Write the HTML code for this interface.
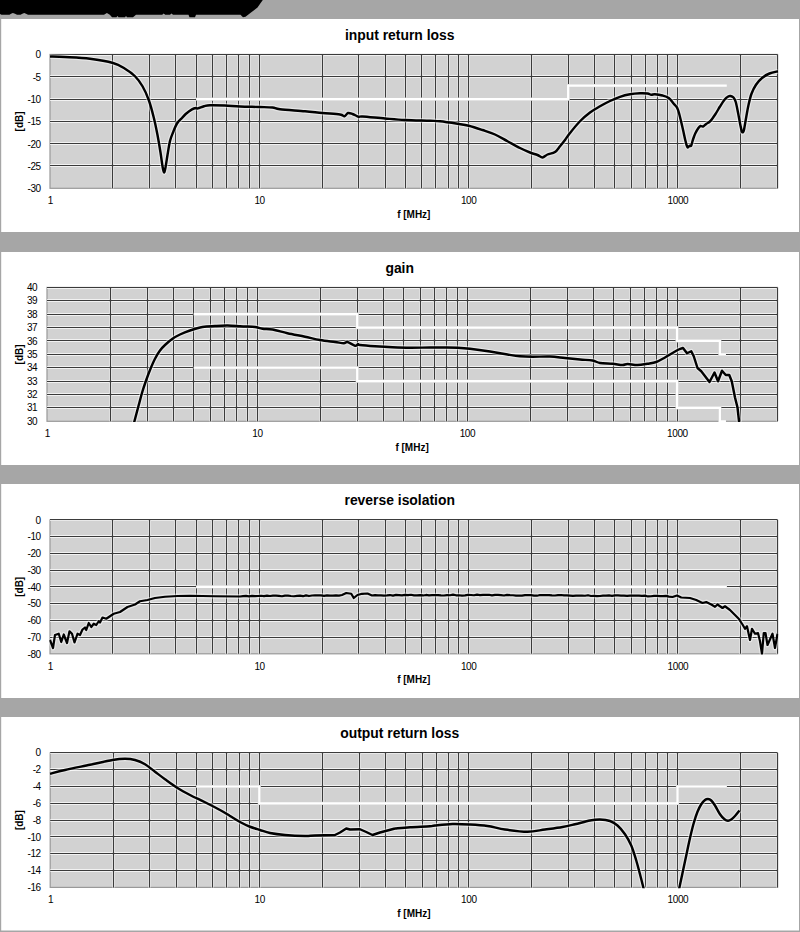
<!DOCTYPE html>
<html><head><meta charset="utf-8"><title>S-Parameters</title>
<style>
html,body{margin:0;padding:0;background:#a6a6a6;}
body{width:800px;height:932px;overflow:hidden;}
svg{display:block;font-family:"Liberation Sans",sans-serif;}
.t{font-size:13.9px;font-weight:bold;text-anchor:middle;fill:#000;}
.yl{font-size:10px;letter-spacing:-0.38px;text-anchor:end;fill:#000;}
.xl{font-size:10px;letter-spacing:-0.38px;text-anchor:middle;fill:#000;}
.ax{font-size:10px;font-weight:bold;text-anchor:middle;fill:#000;}
</style></head><body>
<svg width="800" height="932" viewBox="0 0 800 932">
<defs><filter id="sb" x="-2%" y="-2%" width="104%" height="104%"><feGaussianBlur stdDeviation="0.28"/></filter></defs>
<rect x="0" y="0" width="800" height="932" fill="#a6a6a6"/>
<path d="M0,0 L262.8,0 L261,2.5 L257.5,7.5 L251,12.5 L245.5,16.8 L243,17.2 L240.5,14.8 L196,14.8 L195,17.2 L189.5,17.2 L188.5,14.8 L173,14.8 L171.5,13.6 L170,14.8 L165.2,14.8 L163.7,13.6 L162.2,14.8 L136,14.8 L133,17.2 L127,17.2 L126,16 L125,17.2 L118.5,17.2 L117.5,16 L116.5,17.2 L112,17.2 L109.8,14.8 L106.9,12.9 L104,14.8 L28,14.7 L26,13.8 L24.2,13 L22.4,13.8 L20.5,14.7 L17,14.7 L15,13.8 L12.9,13 L11,13.8 L9.5,14.7 L1.5,14.7 L0,14 Z" fill="#000"/>

<rect x="1.2" y="19" width="797.8" height="213.00" fill="#fff"/>
<text class="t" x="399.7" y="39.8">input return loss</text>
<rect x="50" y="54.45" width="727.50" height="133.85" fill="#d2d2d2" stroke="#999" stroke-width="1.2"/>
<clipPath id="cp0"><rect x="49.2" y="53.650000000000006" width="729.10" height="135.45"/></clipPath>
<path d="M50,54.50H777.5M50,76.50H777.5M50,99.50H777.5M50,121.50H777.5M50,143.50H777.5M50,165.50H777.5M112.50,54.45V188.3M149.50,54.45V188.3M175.50,54.45V188.3M196.50,54.45V188.3M212.50,54.45V188.3M226.50,54.45V188.3M238.50,54.45V188.3M249.50,54.45V188.3M259.50,54.45V188.3M322.50,54.45V188.3M358.50,54.45V188.3M385.50,54.45V188.3M405.50,54.45V188.3M421.50,54.45V188.3M435.50,54.45V188.3M448.50,54.45V188.3M458.50,54.45V188.3M468.50,54.45V188.3M531.50,54.45V188.3M568.50,54.45V188.3M594.50,54.45V188.3M614.50,54.45V188.3M631.50,54.45V188.3M645.50,54.45V188.3M657.50,54.45V188.3M667.50,54.45V188.3M677.50,54.45V188.3M740.50,54.45V188.3M777.50,54.45V188.3M777.50,54.45V188.3" stroke="#fff" stroke-opacity="0.7" stroke-width="3" fill="none" clip-path="url(#cp0)"/>
<path d="M50,54.50H777.5M50,76.50H777.5M50,99.50H777.5M50,121.50H777.5M50,143.50H777.5M50,165.50H777.5M112.50,54.45V188.3M149.50,54.45V188.3M175.50,54.45V188.3M196.50,54.45V188.3M212.50,54.45V188.3M226.50,54.45V188.3M238.50,54.45V188.3M249.50,54.45V188.3M259.50,54.45V188.3M322.50,54.45V188.3M358.50,54.45V188.3M385.50,54.45V188.3M405.50,54.45V188.3M421.50,54.45V188.3M435.50,54.45V188.3M448.50,54.45V188.3M458.50,54.45V188.3M468.50,54.45V188.3M531.50,54.45V188.3M568.50,54.45V188.3M594.50,54.45V188.3M614.50,54.45V188.3M631.50,54.45V188.3M645.50,54.45V188.3M657.50,54.45V188.3M667.50,54.45V188.3M677.50,54.45V188.3M740.50,54.45V188.3M777.50,54.45V188.3M777.50,54.45V188.3" stroke="#3a3a3a" stroke-width="1.2" fill="none" filter="url(#sb)"/>
<path d="M196.20,99.07 L568.14,99.07 L568.14,85.68 L726.78,85.68" stroke="#d2d2d2" stroke-width="3.2" fill="none" clip-path="url(#cp0)"/>
<path d="M196.20,99.07 L568.14,99.07 L568.14,85.68 L726.78,85.68" stroke="#fff" stroke-width="2.2" fill="none" clip-path="url(#cp0)"/>
<path d="M50.00,56.50 C52.50,56.58 58.33,56.62 65.00,57.00 C71.67,57.38 82.00,57.75 90.00,58.75 C98.00,59.75 107.17,61.33 113.00,63.00 C118.83,64.67 121.33,66.54 125.00,68.75 C128.67,70.96 132.08,73.33 135.00,76.25 C137.92,79.17 140.21,82.29 142.50,86.25 C144.79,90.21 146.88,94.79 148.75,100.00 C150.62,105.21 152.29,111.67 153.75,117.50 C155.21,123.33 156.38,129.17 157.50,135.00 C158.62,140.83 159.67,147.29 160.50,152.50 C161.33,157.71 161.92,162.93 162.50,166.25 C163.08,169.57 163.50,172.19 164.00,172.40 C164.50,172.61 164.92,170.40 165.50,167.50 C166.08,164.60 166.75,159.42 167.50,155.00 C168.25,150.58 169.08,144.75 170.00,141.00 C170.92,137.25 171.83,135.42 173.00,132.50 C174.17,129.58 175.50,125.92 177.00,123.50 C178.50,121.08 180.50,119.62 182.00,118.00 C183.50,116.38 184.33,115.23 186.00,113.80 C187.67,112.37 190.33,110.37 192.00,109.40 C193.67,108.43 195.00,108.17 196.00,108.00 C197.00,107.83 196.67,108.68 198.00,108.40 C199.33,108.12 202.00,106.83 204.00,106.30 C206.00,105.77 206.50,105.33 210.00,105.20 C213.50,105.07 220.00,105.28 225.00,105.50 C230.00,105.72 234.25,106.25 240.00,106.50 C245.75,106.75 254.08,106.83 259.50,107.00 C264.92,107.17 269.08,107.12 272.50,107.50 C275.92,107.88 274.58,108.62 280.00,109.25 C285.42,109.88 297.92,110.62 305.00,111.25 C312.08,111.88 316.67,112.46 322.50,113.00 C328.33,113.54 336.33,113.96 340.00,114.50 C343.67,115.04 343.17,116.50 344.50,116.25 C345.83,116.00 346.67,113.38 348.00,113.00 C349.33,112.62 351.12,113.54 352.50,114.00 C353.88,114.46 355.21,115.25 356.25,115.75 C357.29,116.25 357.71,116.88 358.75,117.00 C359.79,117.12 358.12,116.25 362.50,116.50 C366.88,116.75 377.92,117.92 385.00,118.50 C392.08,119.08 397.50,119.62 405.00,120.00 C412.50,120.38 424.17,120.54 430.00,120.75 C435.83,120.96 435.42,120.75 440.00,121.25 C444.58,121.75 452.71,123.00 457.50,123.75 C462.29,124.50 464.58,124.71 468.75,125.75 C472.92,126.79 478.12,128.54 482.50,130.00 C486.88,131.46 490.83,132.62 495.00,134.50 C499.17,136.38 503.33,139.00 507.50,141.25 C511.67,143.50 516.25,146.12 520.00,148.00 C523.75,149.88 527.08,151.33 530.00,152.50 C532.92,153.67 535.42,154.17 537.50,155.00 C539.58,155.83 540.83,157.58 542.50,157.50 C544.17,157.42 545.42,155.42 547.50,154.50 C549.58,153.58 552.92,153.38 555.00,152.00 C557.08,150.62 558.33,148.25 560.00,146.25 C561.67,144.25 563.33,142.21 565.00,140.00 C566.67,137.79 567.50,136.12 570.00,133.00 C572.50,129.88 576.67,124.67 580.00,121.25 C583.33,117.83 586.67,115.00 590.00,112.50 C593.33,110.00 596.67,108.17 600.00,106.25 C603.33,104.33 606.67,102.58 610.00,101.00 C613.33,99.42 616.67,97.92 620.00,96.80 C623.33,95.67 626.67,94.84 630.00,94.25 C633.33,93.66 637.08,93.38 640.00,93.25 C642.92,93.12 645.62,93.25 647.50,93.50 C649.38,93.75 650.00,94.62 651.25,94.75 C652.50,94.88 653.12,94.12 655.00,94.25 C656.88,94.38 660.21,94.88 662.50,95.50 C664.79,96.12 666.88,96.62 668.75,98.00 C670.62,99.38 672.21,101.78 673.75,103.75 C675.29,105.72 676.54,105.84 678.00,109.80 C679.46,113.76 681.25,122.30 682.50,127.50 C683.75,132.70 684.67,137.72 685.50,141.00 C686.33,144.28 686.78,146.40 687.45,147.20 C688.12,148.00 688.88,146.07 689.50,145.80 C690.12,145.53 690.62,146.65 691.20,145.60 C691.78,144.55 692.33,141.52 693.00,139.50 C693.67,137.48 694.38,135.38 695.25,133.50 C696.12,131.62 697.38,129.50 698.25,128.25 C699.12,127.00 699.71,126.29 700.50,126.00 C701.29,125.71 702.00,126.88 703.00,126.50 C704.00,126.12 705.29,124.63 706.50,123.75 C707.71,122.87 708.75,122.83 710.25,121.20 C711.75,119.58 713.88,116.45 715.50,114.00 C717.12,111.55 718.50,108.88 720.00,106.50 C721.50,104.12 723.12,101.42 724.50,99.75 C725.88,98.08 727.25,97.12 728.25,96.50 C729.25,95.88 729.62,95.83 730.50,96.00 C731.38,96.17 732.62,96.50 733.50,97.50 C734.38,98.50 735.00,99.50 735.75,102.00 C736.50,104.50 737.25,108.75 738.00,112.50 C738.75,116.25 739.62,121.38 740.25,124.50 C740.88,127.62 741.29,129.97 741.75,131.25 C742.21,132.53 742.62,132.45 743.00,132.20 C743.38,131.95 743.46,132.28 744.00,129.75 C744.54,127.22 745.50,121.12 746.25,117.00 C747.00,112.88 747.62,108.88 748.50,105.00 C749.38,101.12 750.25,97.12 751.50,93.75 C752.75,90.38 754.25,87.38 756.00,84.75 C757.75,82.12 759.75,79.88 762.00,78.00 C764.25,76.12 766.83,74.62 769.50,73.50 C772.17,72.38 776.58,71.62 778.00,71.25" stroke="#fff" stroke-opacity="0.45" stroke-width="4.8" fill="none" stroke-linejoin="round" clip-path="url(#cp0)"/>
<path d="M50.00,56.50 C52.50,56.58 58.33,56.62 65.00,57.00 C71.67,57.38 82.00,57.75 90.00,58.75 C98.00,59.75 107.17,61.33 113.00,63.00 C118.83,64.67 121.33,66.54 125.00,68.75 C128.67,70.96 132.08,73.33 135.00,76.25 C137.92,79.17 140.21,82.29 142.50,86.25 C144.79,90.21 146.88,94.79 148.75,100.00 C150.62,105.21 152.29,111.67 153.75,117.50 C155.21,123.33 156.38,129.17 157.50,135.00 C158.62,140.83 159.67,147.29 160.50,152.50 C161.33,157.71 161.92,162.93 162.50,166.25 C163.08,169.57 163.50,172.19 164.00,172.40 C164.50,172.61 164.92,170.40 165.50,167.50 C166.08,164.60 166.75,159.42 167.50,155.00 C168.25,150.58 169.08,144.75 170.00,141.00 C170.92,137.25 171.83,135.42 173.00,132.50 C174.17,129.58 175.50,125.92 177.00,123.50 C178.50,121.08 180.50,119.62 182.00,118.00 C183.50,116.38 184.33,115.23 186.00,113.80 C187.67,112.37 190.33,110.37 192.00,109.40 C193.67,108.43 195.00,108.17 196.00,108.00 C197.00,107.83 196.67,108.68 198.00,108.40 C199.33,108.12 202.00,106.83 204.00,106.30 C206.00,105.77 206.50,105.33 210.00,105.20 C213.50,105.07 220.00,105.28 225.00,105.50 C230.00,105.72 234.25,106.25 240.00,106.50 C245.75,106.75 254.08,106.83 259.50,107.00 C264.92,107.17 269.08,107.12 272.50,107.50 C275.92,107.88 274.58,108.62 280.00,109.25 C285.42,109.88 297.92,110.62 305.00,111.25 C312.08,111.88 316.67,112.46 322.50,113.00 C328.33,113.54 336.33,113.96 340.00,114.50 C343.67,115.04 343.17,116.50 344.50,116.25 C345.83,116.00 346.67,113.38 348.00,113.00 C349.33,112.62 351.12,113.54 352.50,114.00 C353.88,114.46 355.21,115.25 356.25,115.75 C357.29,116.25 357.71,116.88 358.75,117.00 C359.79,117.12 358.12,116.25 362.50,116.50 C366.88,116.75 377.92,117.92 385.00,118.50 C392.08,119.08 397.50,119.62 405.00,120.00 C412.50,120.38 424.17,120.54 430.00,120.75 C435.83,120.96 435.42,120.75 440.00,121.25 C444.58,121.75 452.71,123.00 457.50,123.75 C462.29,124.50 464.58,124.71 468.75,125.75 C472.92,126.79 478.12,128.54 482.50,130.00 C486.88,131.46 490.83,132.62 495.00,134.50 C499.17,136.38 503.33,139.00 507.50,141.25 C511.67,143.50 516.25,146.12 520.00,148.00 C523.75,149.88 527.08,151.33 530.00,152.50 C532.92,153.67 535.42,154.17 537.50,155.00 C539.58,155.83 540.83,157.58 542.50,157.50 C544.17,157.42 545.42,155.42 547.50,154.50 C549.58,153.58 552.92,153.38 555.00,152.00 C557.08,150.62 558.33,148.25 560.00,146.25 C561.67,144.25 563.33,142.21 565.00,140.00 C566.67,137.79 567.50,136.12 570.00,133.00 C572.50,129.88 576.67,124.67 580.00,121.25 C583.33,117.83 586.67,115.00 590.00,112.50 C593.33,110.00 596.67,108.17 600.00,106.25 C603.33,104.33 606.67,102.58 610.00,101.00 C613.33,99.42 616.67,97.92 620.00,96.80 C623.33,95.67 626.67,94.84 630.00,94.25 C633.33,93.66 637.08,93.38 640.00,93.25 C642.92,93.12 645.62,93.25 647.50,93.50 C649.38,93.75 650.00,94.62 651.25,94.75 C652.50,94.88 653.12,94.12 655.00,94.25 C656.88,94.38 660.21,94.88 662.50,95.50 C664.79,96.12 666.88,96.62 668.75,98.00 C670.62,99.38 672.21,101.78 673.75,103.75 C675.29,105.72 676.54,105.84 678.00,109.80 C679.46,113.76 681.25,122.30 682.50,127.50 C683.75,132.70 684.67,137.72 685.50,141.00 C686.33,144.28 686.78,146.40 687.45,147.20 C688.12,148.00 688.88,146.07 689.50,145.80 C690.12,145.53 690.62,146.65 691.20,145.60 C691.78,144.55 692.33,141.52 693.00,139.50 C693.67,137.48 694.38,135.38 695.25,133.50 C696.12,131.62 697.38,129.50 698.25,128.25 C699.12,127.00 699.71,126.29 700.50,126.00 C701.29,125.71 702.00,126.88 703.00,126.50 C704.00,126.12 705.29,124.63 706.50,123.75 C707.71,122.87 708.75,122.83 710.25,121.20 C711.75,119.58 713.88,116.45 715.50,114.00 C717.12,111.55 718.50,108.88 720.00,106.50 C721.50,104.12 723.12,101.42 724.50,99.75 C725.88,98.08 727.25,97.12 728.25,96.50 C729.25,95.88 729.62,95.83 730.50,96.00 C731.38,96.17 732.62,96.50 733.50,97.50 C734.38,98.50 735.00,99.50 735.75,102.00 C736.50,104.50 737.25,108.75 738.00,112.50 C738.75,116.25 739.62,121.38 740.25,124.50 C740.88,127.62 741.29,129.97 741.75,131.25 C742.21,132.53 742.62,132.45 743.00,132.20 C743.38,131.95 743.46,132.28 744.00,129.75 C744.54,127.22 745.50,121.12 746.25,117.00 C747.00,112.88 747.62,108.88 748.50,105.00 C749.38,101.12 750.25,97.12 751.50,93.75 C752.75,90.38 754.25,87.38 756.00,84.75 C757.75,82.12 759.75,79.88 762.00,78.00 C764.25,76.12 766.83,74.62 769.50,73.50 C772.17,72.38 776.58,71.62 778.00,71.25" stroke="#000" stroke-width="2.45" fill="none" stroke-linejoin="round" stroke-linecap="butt" clip-path="url(#cp0)"/>
<text class="yl" x="40.8" y="58.4">0</text>
<text class="yl" x="40.8" y="80.7">-5</text>
<text class="yl" x="40.8" y="103.0">-10</text>
<text class="yl" x="40.8" y="125.3">-15</text>
<text class="yl" x="40.8" y="147.6">-20</text>
<text class="yl" x="40.8" y="169.9">-25</text>
<text class="yl" x="40.8" y="192.2">-30</text>
<text class="xl" x="50.4" y="204.3">1</text>
<text class="xl" x="259.6" y="204.3">10</text>
<text class="xl" x="468.7" y="204.3">100</text>
<text class="xl" x="677.9" y="204.3">1000</text>
<text class="ax" x="413.8" y="217.9">f [MHz]</text>
<text class="ax" transform="translate(23.1,121.4) rotate(-90)" x="0" y="0">[dB]</text>
<rect x="1.2" y="252" width="797.8" height="213.00" fill="#fff"/>
<text class="t" x="399.7" y="272.6">gain</text>
<rect x="47" y="287.4" width="730.30" height="133.90" fill="#d2d2d2" stroke="#999" stroke-width="1.2"/>
<clipPath id="cp1"><rect x="46.2" y="286.59999999999997" width="731.90" height="135.50"/></clipPath>
<path d="M47,287.50H777.3M47,300.50H777.3M47,314.50H777.3M47,327.50H777.3M47,340.50H777.3M47,354.50H777.3M47,367.50H777.3M47,381.50H777.3M47,394.50H777.3M47,407.50H777.3M110.50,287.4V421.3M147.50,287.4V421.3M173.50,287.4V421.3M193.50,287.4V421.3M210.50,287.4V421.3M224.50,287.4V421.3M236.50,287.4V421.3M247.50,287.4V421.3M257.50,287.4V421.3M320.50,287.4V421.3M357.50,287.4V421.3M383.50,287.4V421.3M403.50,287.4V421.3M420.50,287.4V421.3M434.50,287.4V421.3M446.50,287.4V421.3M457.50,287.4V421.3M467.50,287.4V421.3M530.50,287.4V421.3M567.50,287.4V421.3M593.50,287.4V421.3M613.50,287.4V421.3M630.50,287.4V421.3M644.50,287.4V421.3M656.50,287.4V421.3M667.50,287.4V421.3M677.50,287.4V421.3M740.50,287.4V421.3M777.50,287.4V421.3M777.50,287.4V421.3" stroke="#fff" stroke-opacity="0.7" stroke-width="3" fill="none" clip-path="url(#cp1)"/>
<path d="M47,287.50H777.3M47,300.50H777.3M47,314.50H777.3M47,327.50H777.3M47,340.50H777.3M47,354.50H777.3M47,367.50H777.3M47,381.50H777.3M47,394.50H777.3M47,407.50H777.3M110.50,287.4V421.3M147.50,287.4V421.3M173.50,287.4V421.3M193.50,287.4V421.3M210.50,287.4V421.3M224.50,287.4V421.3M236.50,287.4V421.3M247.50,287.4V421.3M257.50,287.4V421.3M320.50,287.4V421.3M357.50,287.4V421.3M383.50,287.4V421.3M403.50,287.4V421.3M420.50,287.4V421.3M434.50,287.4V421.3M446.50,287.4V421.3M457.50,287.4V421.3M467.50,287.4V421.3M530.50,287.4V421.3M567.50,287.4V421.3M593.50,287.4V421.3M613.50,287.4V421.3M630.50,287.4V421.3M644.50,287.4V421.3M656.50,287.4V421.3M667.50,287.4V421.3M677.50,287.4V421.3M740.50,287.4V421.3M777.50,287.4V421.3M777.50,287.4V421.3" stroke="#3a3a3a" stroke-width="1.2" fill="none" filter="url(#sb)"/>
<path d="M193.78,314.18 L357.20,314.18 L357.20,327.57 L677.00,327.57 L677.00,340.96 L719.87,340.96 L719.87,354.35 L725.93,354.35" stroke="#d2d2d2" stroke-width="3.2" fill="none" clip-path="url(#cp1)"/>
<path d="M193.78,314.18 L357.20,314.18 L357.20,327.57 L677.00,327.57 L677.00,340.96 L719.87,340.96 L719.87,354.35 L725.93,354.35" stroke="#fff" stroke-width="2.2" fill="none" clip-path="url(#cp1)"/>
<path d="M193.78,367.74 L357.20,367.74 L357.20,381.13 L677.00,381.13 L677.00,407.91 L719.87,407.91 L719.87,421.30 L725.93,421.30" stroke="#d2d2d2" stroke-width="3.2" fill="none" clip-path="url(#cp1)"/>
<path d="M193.78,367.74 L357.20,367.74 L357.20,381.13 L677.00,381.13 L677.00,407.91 L719.87,407.91 L719.87,421.30 L725.93,421.30" stroke="#fff" stroke-width="2.2" fill="none" clip-path="url(#cp1)"/>
<path d="M133.50,425.00 C133.67,424.33 133.62,424.33 134.50,421.00 C135.38,417.67 137.42,409.96 138.75,405.00 C140.08,400.04 141.25,395.42 142.50,391.25 C143.75,387.08 145.00,383.54 146.25,380.00 C147.50,376.46 148.54,373.54 150.00,370.00 C151.46,366.46 153.33,362.00 155.00,358.75 C156.67,355.50 158.33,352.79 160.00,350.50 C161.67,348.21 162.92,346.96 165.00,345.00 C167.08,343.04 170.00,340.50 172.50,338.75 C175.00,337.00 177.08,335.88 180.00,334.50 C182.92,333.12 186.25,331.75 190.00,330.50 C193.75,329.25 198.33,327.75 202.50,327.00 C206.67,326.25 210.83,326.25 215.00,326.00 C219.17,325.75 223.33,325.46 227.50,325.50 C231.67,325.54 237.08,326.08 240.00,326.25 C242.92,326.42 242.50,326.38 245.00,326.50 C247.50,326.62 252.08,326.62 255.00,327.00 C257.92,327.38 259.58,328.33 262.50,328.75 C265.42,329.17 268.33,328.75 272.50,329.50 C276.67,330.25 282.08,332.04 287.50,333.25 C292.92,334.46 299.58,335.62 305.00,336.75 C310.42,337.88 315.00,339.12 320.00,340.00 C325.00,340.88 331.04,341.46 335.00,342.00 C338.96,342.54 341.67,343.25 343.75,343.25 C345.83,343.25 345.62,341.58 347.50,342.00 C349.38,342.42 353.25,345.38 355.00,345.75 C356.75,346.12 357.17,344.38 358.00,344.25 C358.83,344.12 357.17,344.67 360.00,345.00 C362.83,345.33 369.58,345.88 375.00,346.25 C380.42,346.62 386.67,347.00 392.50,347.25 C398.33,347.50 403.75,347.71 410.00,347.75 C416.25,347.79 424.17,347.54 430.00,347.50 C435.83,347.46 440.42,347.46 445.00,347.50 C449.58,347.54 453.33,347.54 457.50,347.75 C461.67,347.96 464.58,348.12 470.00,348.75 C475.42,349.38 483.75,350.54 490.00,351.50 C496.25,352.46 502.50,353.71 507.50,354.50 C512.50,355.29 515.83,355.88 520.00,356.25 C524.17,356.62 527.50,356.71 532.50,356.75 C537.50,356.79 544.58,356.29 550.00,356.50 C555.42,356.71 560.00,357.50 565.00,358.00 C570.00,358.50 575.42,359.08 580.00,359.50 C584.58,359.92 589.17,359.92 592.50,360.50 C595.83,361.08 596.67,362.46 600.00,363.00 C603.33,363.54 608.75,363.42 612.50,363.75 C616.25,364.08 620.00,364.96 622.50,365.00 C625.00,365.04 625.00,364.00 627.50,364.00 C630.00,364.00 634.17,365.04 637.50,365.00 C640.83,364.96 644.38,364.25 647.50,363.75 C650.62,363.25 653.33,363.04 656.25,362.00 C659.17,360.96 662.29,359.00 665.00,357.50 C667.71,356.00 670.21,354.33 672.50,353.00 C674.79,351.67 677.00,350.33 678.75,349.50 C680.50,348.67 682.29,348.25 683.00,348.00  L687.00,353.25 L691.25,351.25 L693.75,356.25 L697.50,368.00 L701.25,371.25 L709.50,382.00 L714.50,372.50 L718.00,381.25 L722.00,370.75 L725.75,375.00 L729.25,375.00 L731.75,381.25 L735.00,397.50 L737.50,407.50 L739.00,421.00 L739.50,426.00" stroke="#fff" stroke-opacity="0.45" stroke-width="4.8" fill="none" stroke-linejoin="round" clip-path="url(#cp1)"/>
<path d="M133.50,425.00 C133.67,424.33 133.62,424.33 134.50,421.00 C135.38,417.67 137.42,409.96 138.75,405.00 C140.08,400.04 141.25,395.42 142.50,391.25 C143.75,387.08 145.00,383.54 146.25,380.00 C147.50,376.46 148.54,373.54 150.00,370.00 C151.46,366.46 153.33,362.00 155.00,358.75 C156.67,355.50 158.33,352.79 160.00,350.50 C161.67,348.21 162.92,346.96 165.00,345.00 C167.08,343.04 170.00,340.50 172.50,338.75 C175.00,337.00 177.08,335.88 180.00,334.50 C182.92,333.12 186.25,331.75 190.00,330.50 C193.75,329.25 198.33,327.75 202.50,327.00 C206.67,326.25 210.83,326.25 215.00,326.00 C219.17,325.75 223.33,325.46 227.50,325.50 C231.67,325.54 237.08,326.08 240.00,326.25 C242.92,326.42 242.50,326.38 245.00,326.50 C247.50,326.62 252.08,326.62 255.00,327.00 C257.92,327.38 259.58,328.33 262.50,328.75 C265.42,329.17 268.33,328.75 272.50,329.50 C276.67,330.25 282.08,332.04 287.50,333.25 C292.92,334.46 299.58,335.62 305.00,336.75 C310.42,337.88 315.00,339.12 320.00,340.00 C325.00,340.88 331.04,341.46 335.00,342.00 C338.96,342.54 341.67,343.25 343.75,343.25 C345.83,343.25 345.62,341.58 347.50,342.00 C349.38,342.42 353.25,345.38 355.00,345.75 C356.75,346.12 357.17,344.38 358.00,344.25 C358.83,344.12 357.17,344.67 360.00,345.00 C362.83,345.33 369.58,345.88 375.00,346.25 C380.42,346.62 386.67,347.00 392.50,347.25 C398.33,347.50 403.75,347.71 410.00,347.75 C416.25,347.79 424.17,347.54 430.00,347.50 C435.83,347.46 440.42,347.46 445.00,347.50 C449.58,347.54 453.33,347.54 457.50,347.75 C461.67,347.96 464.58,348.12 470.00,348.75 C475.42,349.38 483.75,350.54 490.00,351.50 C496.25,352.46 502.50,353.71 507.50,354.50 C512.50,355.29 515.83,355.88 520.00,356.25 C524.17,356.62 527.50,356.71 532.50,356.75 C537.50,356.79 544.58,356.29 550.00,356.50 C555.42,356.71 560.00,357.50 565.00,358.00 C570.00,358.50 575.42,359.08 580.00,359.50 C584.58,359.92 589.17,359.92 592.50,360.50 C595.83,361.08 596.67,362.46 600.00,363.00 C603.33,363.54 608.75,363.42 612.50,363.75 C616.25,364.08 620.00,364.96 622.50,365.00 C625.00,365.04 625.00,364.00 627.50,364.00 C630.00,364.00 634.17,365.04 637.50,365.00 C640.83,364.96 644.38,364.25 647.50,363.75 C650.62,363.25 653.33,363.04 656.25,362.00 C659.17,360.96 662.29,359.00 665.00,357.50 C667.71,356.00 670.21,354.33 672.50,353.00 C674.79,351.67 677.00,350.33 678.75,349.50 C680.50,348.67 682.29,348.25 683.00,348.00  L687.00,353.25 L691.25,351.25 L693.75,356.25 L697.50,368.00 L701.25,371.25 L709.50,382.00 L714.50,372.50 L718.00,381.25 L722.00,370.75 L725.75,375.00 L729.25,375.00 L731.75,381.25 L735.00,397.50 L737.50,407.50 L739.00,421.00 L739.50,426.00" stroke="#000" stroke-width="2.45" fill="none" stroke-linejoin="round" stroke-linecap="butt" clip-path="url(#cp1)"/>
<text class="yl" x="37.3" y="290.9">40</text>
<text class="yl" x="37.3" y="304.3">39</text>
<text class="yl" x="37.3" y="317.7">38</text>
<text class="yl" x="37.3" y="331.1">37</text>
<text class="yl" x="37.3" y="344.5">36</text>
<text class="yl" x="37.3" y="357.9">35</text>
<text class="yl" x="37.3" y="371.2">34</text>
<text class="yl" x="37.3" y="384.6">33</text>
<text class="yl" x="37.3" y="398.0">32</text>
<text class="yl" x="37.3" y="411.4">31</text>
<text class="yl" x="37.3" y="424.8">30</text>
<text class="xl" x="47.4" y="437.3">1</text>
<text class="xl" x="257.4" y="437.3">10</text>
<text class="xl" x="467.4" y="437.3">100</text>
<text class="xl" x="677.4" y="437.3">1000</text>
<text class="ax" x="412.1" y="450.9">f [MHz]</text>
<text class="ax" transform="translate(23.1,354.4) rotate(-90)" x="0" y="0">[dB]</text>
<rect x="1.2" y="484" width="797.8" height="214.00" fill="#fff"/>
<text class="t" x="399.7" y="505.4">reverse isolation</text>
<rect x="50" y="519.9" width="727.50" height="133.90" fill="#d2d2d2" stroke="#999" stroke-width="1.2"/>
<clipPath id="cp2"><rect x="49.2" y="519.1" width="729.10" height="135.50"/></clipPath>
<path d="M50,519.50H777.5M50,536.50H777.5M50,553.50H777.5M50,570.50H777.5M50,586.50H777.5M50,603.50H777.5M50,620.50H777.5M50,637.50H777.5M112.50,519.9V653.8M149.50,519.9V653.8M175.50,519.9V653.8M196.50,519.9V653.8M212.50,519.9V653.8M226.50,519.9V653.8M238.50,519.9V653.8M249.50,519.9V653.8M259.50,519.9V653.8M322.50,519.9V653.8M358.50,519.9V653.8M385.50,519.9V653.8M405.50,519.9V653.8M421.50,519.9V653.8M435.50,519.9V653.8M448.50,519.9V653.8M458.50,519.9V653.8M468.50,519.9V653.8M531.50,519.9V653.8M568.50,519.9V653.8M594.50,519.9V653.8M614.50,519.9V653.8M631.50,519.9V653.8M645.50,519.9V653.8M657.50,519.9V653.8M667.50,519.9V653.8M677.50,519.9V653.8M740.50,519.9V653.8M777.50,519.9V653.8M777.50,519.9V653.8" stroke="#fff" stroke-opacity="0.7" stroke-width="3" fill="none" clip-path="url(#cp2)"/>
<path d="M50,519.50H777.5M50,536.50H777.5M50,553.50H777.5M50,570.50H777.5M50,586.50H777.5M50,603.50H777.5M50,620.50H777.5M50,637.50H777.5M112.50,519.9V653.8M149.50,519.9V653.8M175.50,519.9V653.8M196.50,519.9V653.8M212.50,519.9V653.8M226.50,519.9V653.8M238.50,519.9V653.8M249.50,519.9V653.8M259.50,519.9V653.8M322.50,519.9V653.8M358.50,519.9V653.8M385.50,519.9V653.8M405.50,519.9V653.8M421.50,519.9V653.8M435.50,519.9V653.8M448.50,519.9V653.8M458.50,519.9V653.8M468.50,519.9V653.8M531.50,519.9V653.8M568.50,519.9V653.8M594.50,519.9V653.8M614.50,519.9V653.8M631.50,519.9V653.8M645.50,519.9V653.8M657.50,519.9V653.8M667.50,519.9V653.8M677.50,519.9V653.8M740.50,519.9V653.8M777.50,519.9V653.8M777.50,519.9V653.8" stroke="#3a3a3a" stroke-width="1.2" fill="none" filter="url(#sb)"/>
<path d="M196.20,586.85 L726.78,586.85" stroke="#d2d2d2" stroke-width="3.2" fill="none" clip-path="url(#cp2)"/>
<path d="M196.20,586.85 L726.78,586.85" stroke="#fff" stroke-width="2.2" fill="none" clip-path="url(#cp2)"/>
<path d="M50.00,640.00 L53.00,648.00 L55.00,635.00 L58.75,633.75 L61.25,642.00 L63.75,634.50 L67.00,643.00 L69.50,631.25 L72.00,633.75 L74.50,642.50 L77.50,633.75 L80.00,635.00 L82.50,629.50 L85.00,627.50 L86.25,630.00 L88.75,623.00 L91.25,627.00 L93.75,623.75 L96.25,625.00 L98.75,621.25 L100.00,622.50 L102.50,617.50 L106.25,618.75 L110.00,616.25 L113.75,613.75 L120.00,612.00 L127.50,607.00 L135.00,604.50 L140.00,601.25 L147.50,600.00 L155.00,598.00 L165.00,596.75 L177.50,596.00 L190.00,595.75 L215.00,596.25 L240.00,596.50 L243.00,596.12 L246.00,595.93 L249.00,596.36 L252.00,595.81 L255.00,596.20 L258.00,596.02 L261.00,595.72 L264.00,596.10 L267.00,595.65 L270.00,595.98 L273.00,595.63 L276.00,595.62 L279.00,595.89 L282.00,596.23 L285.00,595.57 L288.00,595.64 L291.00,595.98 L294.00,596.24 L297.00,595.88 L300.00,595.70 L303.00,596.20 L306.00,595.34 L309.00,596.04 L312.00,595.51 L315.00,595.35 L318.00,595.31 L321.00,595.46 L324.00,595.89 L327.00,595.30 L330.00,595.64 L333.00,595.67 L336.00,595.41 L339.00,595.55 L342.00,595.00 L346.25,593.00 L351.25,593.75 L353.75,598.00 L357.50,595.00 L362.00,593.80 L367.50,593.50 L372.00,595.49 L375.00,595.07 L378.00,595.35 L381.00,595.29 L384.00,595.60 L387.00,595.45 L390.00,595.04 L393.00,595.65 L396.00,594.87 L399.00,595.13 L402.00,595.42 L405.00,594.87 L408.00,595.16 L411.00,594.75 L414.00,595.30 L417.00,595.38 L420.00,595.20 L423.00,595.47 L426.00,594.96 L429.00,595.30 L432.00,595.20 L435.00,595.18 L438.00,595.07 L441.00,595.41 L444.00,595.50 L447.00,595.08 L450.00,595.25 L453.00,594.70 L456.00,595.28 L459.00,595.23 L462.00,595.55 L465.00,595.39 L468.00,594.91 L471.00,595.01 L474.00,595.26 L477.00,594.69 L480.00,595.09 L483.00,594.83 L486.00,594.79 L489.00,594.74 L492.00,595.38 L495.00,594.82 L498.00,594.93 L501.00,595.07 L504.00,595.51 L507.00,594.81 L510.00,595.15 L513.00,595.25 L516.00,595.56 L519.00,595.52 L522.00,595.57 L525.00,595.05 L528.00,595.19 L531.00,595.15 L534.00,595.64 L537.00,595.72 L540.00,595.01 L543.00,595.05 L546.00,595.11 L549.00,595.13 L552.00,595.38 L555.00,595.49 L558.00,595.21 L561.00,595.00 L564.00,595.39 L567.00,595.36 L570.00,595.56 L573.00,595.93 L576.00,595.71 L579.00,595.57 L582.00,595.69 L585.00,595.76 L588.00,595.22 L591.00,596.00 L594.00,595.92 L597.00,596.03 L600.00,595.98 L603.00,595.64 L606.00,595.67 L609.00,595.43 L612.00,595.93 L615.00,595.44 L618.00,595.47 L621.00,595.62 L624.00,595.60 L627.00,595.79 L630.00,595.55 L633.00,595.53 L636.00,595.69 L639.00,595.67 L642.00,595.93 L645.00,595.65 L648.00,596.44 L651.00,596.24 L654.00,595.84 L657.00,595.96 L660.00,596.08 L663.00,596.12 L666.00,595.93 L669.00,596.61 L672.50,597.00 L677.00,595.50 L681.25,597.50 L690.00,598.00 L696.25,600.00 L702.50,603.00 L706.25,602.00 L711.25,604.50 L715.00,606.75 L717.50,604.50 L722.50,608.00 L725.00,606.25 L730.00,610.00 L735.00,615.00 L738.75,618.75 L742.50,624.50 L745.00,628.75 L747.00,626.25 L750.00,640.00 L752.00,628.75 L755.00,633.75 L758.00,633.00 L760.00,641.25 L762.00,654.00 L763.75,633.00 L765.50,633.00 L767.50,645.00 L772.50,633.75 L775.00,648.00 L777.50,633.75" stroke="#fff" stroke-opacity="0.45" stroke-width="4.8" fill="none" stroke-linejoin="round" clip-path="url(#cp2)"/>
<path d="M50.00,640.00 L53.00,648.00 L55.00,635.00 L58.75,633.75 L61.25,642.00 L63.75,634.50 L67.00,643.00 L69.50,631.25 L72.00,633.75 L74.50,642.50 L77.50,633.75 L80.00,635.00 L82.50,629.50 L85.00,627.50 L86.25,630.00 L88.75,623.00 L91.25,627.00 L93.75,623.75 L96.25,625.00 L98.75,621.25 L100.00,622.50 L102.50,617.50 L106.25,618.75 L110.00,616.25 L113.75,613.75 L120.00,612.00 L127.50,607.00 L135.00,604.50 L140.00,601.25 L147.50,600.00 L155.00,598.00 L165.00,596.75 L177.50,596.00 L190.00,595.75 L215.00,596.25 L240.00,596.50 L243.00,596.12 L246.00,595.93 L249.00,596.36 L252.00,595.81 L255.00,596.20 L258.00,596.02 L261.00,595.72 L264.00,596.10 L267.00,595.65 L270.00,595.98 L273.00,595.63 L276.00,595.62 L279.00,595.89 L282.00,596.23 L285.00,595.57 L288.00,595.64 L291.00,595.98 L294.00,596.24 L297.00,595.88 L300.00,595.70 L303.00,596.20 L306.00,595.34 L309.00,596.04 L312.00,595.51 L315.00,595.35 L318.00,595.31 L321.00,595.46 L324.00,595.89 L327.00,595.30 L330.00,595.64 L333.00,595.67 L336.00,595.41 L339.00,595.55 L342.00,595.00 L346.25,593.00 L351.25,593.75 L353.75,598.00 L357.50,595.00 L362.00,593.80 L367.50,593.50 L372.00,595.49 L375.00,595.07 L378.00,595.35 L381.00,595.29 L384.00,595.60 L387.00,595.45 L390.00,595.04 L393.00,595.65 L396.00,594.87 L399.00,595.13 L402.00,595.42 L405.00,594.87 L408.00,595.16 L411.00,594.75 L414.00,595.30 L417.00,595.38 L420.00,595.20 L423.00,595.47 L426.00,594.96 L429.00,595.30 L432.00,595.20 L435.00,595.18 L438.00,595.07 L441.00,595.41 L444.00,595.50 L447.00,595.08 L450.00,595.25 L453.00,594.70 L456.00,595.28 L459.00,595.23 L462.00,595.55 L465.00,595.39 L468.00,594.91 L471.00,595.01 L474.00,595.26 L477.00,594.69 L480.00,595.09 L483.00,594.83 L486.00,594.79 L489.00,594.74 L492.00,595.38 L495.00,594.82 L498.00,594.93 L501.00,595.07 L504.00,595.51 L507.00,594.81 L510.00,595.15 L513.00,595.25 L516.00,595.56 L519.00,595.52 L522.00,595.57 L525.00,595.05 L528.00,595.19 L531.00,595.15 L534.00,595.64 L537.00,595.72 L540.00,595.01 L543.00,595.05 L546.00,595.11 L549.00,595.13 L552.00,595.38 L555.00,595.49 L558.00,595.21 L561.00,595.00 L564.00,595.39 L567.00,595.36 L570.00,595.56 L573.00,595.93 L576.00,595.71 L579.00,595.57 L582.00,595.69 L585.00,595.76 L588.00,595.22 L591.00,596.00 L594.00,595.92 L597.00,596.03 L600.00,595.98 L603.00,595.64 L606.00,595.67 L609.00,595.43 L612.00,595.93 L615.00,595.44 L618.00,595.47 L621.00,595.62 L624.00,595.60 L627.00,595.79 L630.00,595.55 L633.00,595.53 L636.00,595.69 L639.00,595.67 L642.00,595.93 L645.00,595.65 L648.00,596.44 L651.00,596.24 L654.00,595.84 L657.00,595.96 L660.00,596.08 L663.00,596.12 L666.00,595.93 L669.00,596.61 L672.50,597.00 L677.00,595.50 L681.25,597.50 L690.00,598.00 L696.25,600.00 L702.50,603.00 L706.25,602.00 L711.25,604.50 L715.00,606.75 L717.50,604.50 L722.50,608.00 L725.00,606.25 L730.00,610.00 L735.00,615.00 L738.75,618.75 L742.50,624.50 L745.00,628.75 L747.00,626.25 L750.00,640.00 L752.00,628.75 L755.00,633.75 L758.00,633.00 L760.00,641.25 L762.00,654.00 L763.75,633.00 L765.50,633.00 L767.50,645.00 L772.50,633.75 L775.00,648.00 L777.50,633.75" stroke="#000" stroke-width="2.2" fill="none" stroke-linejoin="round" stroke-linecap="butt" clip-path="url(#cp2)"/>
<text class="yl" x="40.8" y="523.7">0</text>
<text class="yl" x="40.8" y="540.4">-10</text>
<text class="yl" x="40.8" y="557.2">-20</text>
<text class="yl" x="40.8" y="573.9">-30</text>
<text class="yl" x="40.8" y="590.6">-40</text>
<text class="yl" x="40.8" y="607.4">-50</text>
<text class="yl" x="40.8" y="624.1">-60</text>
<text class="yl" x="40.8" y="640.9">-70</text>
<text class="yl" x="40.8" y="657.6">-80</text>
<text class="xl" x="50.4" y="669.8">1</text>
<text class="xl" x="259.6" y="669.8">10</text>
<text class="xl" x="468.7" y="669.8">100</text>
<text class="xl" x="677.9" y="669.8">1000</text>
<text class="ax" x="413.8" y="683.4">f [MHz]</text>
<text class="ax" transform="translate(23.1,586.8) rotate(-90)" x="0" y="0">[dB]</text>
<rect x="1.2" y="717" width="797.8" height="213.50" fill="#fff"/>
<text class="t" x="399.7" y="738.2">output return loss</text>
<rect x="50.2" y="752.9" width="727.30" height="134.50" fill="#d2d2d2" stroke="#999" stroke-width="1.2"/>
<clipPath id="cp3"><rect x="49.400000000000006" y="752.1" width="728.90" height="136.10"/></clipPath>
<path d="M50.2,752.50H777.5M50.2,769.50H777.5M50.2,786.50H777.5M50.2,803.50H777.5M50.2,820.50H777.5M50.2,836.50H777.5M50.2,853.50H777.5M50.2,870.50H777.5M113.50,752.9V887.4M149.50,752.9V887.4M176.50,752.9V887.4M196.50,752.9V887.4M212.50,752.9V887.4M226.50,752.9V887.4M239.50,752.9V887.4M249.50,752.9V887.4M259.50,752.9V887.4M322.50,752.9V887.4M359.50,752.9V887.4M385.50,752.9V887.4M405.50,752.9V887.4M422.50,752.9V887.4M436.50,752.9V887.4M448.50,752.9V887.4M458.50,752.9V887.4M468.50,752.9V887.4M531.50,752.9V887.4M568.50,752.9V887.4M594.50,752.9V887.4M614.50,752.9V887.4M631.50,752.9V887.4M645.50,752.9V887.4M657.50,752.9V887.4M667.50,752.9V887.4M677.50,752.9V887.4M740.50,752.9V887.4M777.50,752.9V887.4M777.50,752.9V887.4" stroke="#fff" stroke-opacity="0.7" stroke-width="3" fill="none" clip-path="url(#cp3)"/>
<path d="M50.2,752.50H777.5M50.2,769.50H777.5M50.2,786.50H777.5M50.2,803.50H777.5M50.2,820.50H777.5M50.2,836.50H777.5M50.2,853.50H777.5M50.2,870.50H777.5M113.50,752.9V887.4M149.50,752.9V887.4M176.50,752.9V887.4M196.50,752.9V887.4M212.50,752.9V887.4M226.50,752.9V887.4M239.50,752.9V887.4M249.50,752.9V887.4M259.50,752.9V887.4M322.50,752.9V887.4M359.50,752.9V887.4M385.50,752.9V887.4M405.50,752.9V887.4M422.50,752.9V887.4M436.50,752.9V887.4M448.50,752.9V887.4M458.50,752.9V887.4M468.50,752.9V887.4M531.50,752.9V887.4M568.50,752.9V887.4M594.50,752.9V887.4M614.50,752.9V887.4M631.50,752.9V887.4M645.50,752.9V887.4M657.50,752.9V887.4M667.50,752.9V887.4M677.50,752.9V887.4M740.50,752.9V887.4M777.50,752.9V887.4M777.50,752.9V887.4" stroke="#3a3a3a" stroke-width="1.2" fill="none" filter="url(#sb)"/>
<path d="M196.35,786.52 L259.30,786.52 L259.30,803.34 L677.50,803.34 L677.50,786.52 L726.75,786.52" stroke="#d2d2d2" stroke-width="3.2" fill="none" clip-path="url(#cp3)"/>
<path d="M196.35,786.52 L259.30,786.52 L259.30,803.34 L677.50,803.34 L677.50,786.52 L726.75,786.52" stroke="#fff" stroke-width="2.2" fill="none" clip-path="url(#cp3)"/>
<path d="M50.00,773.75 C52.50,773.12 58.33,771.50 65.00,770.00 C71.67,768.50 82.08,766.42 90.00,764.75 C97.92,763.08 106.67,761.00 112.50,760.00 C118.33,759.00 121.25,758.75 125.00,758.75 C128.75,758.75 131.67,759.08 135.00,760.00 C138.33,760.92 141.67,762.29 145.00,764.25 C148.33,766.21 151.67,769.25 155.00,771.75 C158.33,774.25 161.25,776.54 165.00,779.25 C168.75,781.96 173.33,785.38 177.50,788.00 C181.67,790.62 185.42,792.62 190.00,795.00 C194.58,797.38 200.00,799.75 205.00,802.25 C210.00,804.75 215.83,807.71 220.00,810.00 C224.17,812.29 226.67,814.00 230.00,816.00 C233.33,818.00 236.67,820.21 240.00,822.00 C243.33,823.79 246.67,825.42 250.00,826.75 C253.33,828.08 256.67,828.96 260.00,830.00 C263.33,831.04 265.83,832.17 270.00,833.00 C274.17,833.83 279.17,834.50 285.00,835.00 C290.83,835.50 300.00,835.92 305.00,836.00 C310.00,836.08 310.00,835.67 315.00,835.50 C320.00,835.33 331.67,835.08 335.00,835.00 L340.00,832.50 L346.25,828.50 L350.00,829.50 L360.00,829.25 L366.25,832.00 L372.50,835.00 L380.00,832.50 L395.00,828.50 M395.00,828.50 C397.50,828.29 404.17,827.62 410.00,827.25 C415.83,826.88 425.83,826.54 430.00,826.25 C434.17,825.96 431.25,825.88 435.00,825.50 C438.75,825.12 446.67,824.17 452.50,824.00 C458.33,823.83 464.17,824.17 470.00,824.50 C475.83,824.83 481.67,825.17 487.50,826.00 C493.33,826.83 498.33,828.54 505.00,829.50 C511.67,830.46 520.83,831.75 527.50,831.75 C534.17,831.75 539.17,830.29 545.00,829.50 C550.83,828.71 557.50,827.88 562.50,827.00 C567.50,826.12 570.42,825.33 575.00,824.25 C579.58,823.17 585.83,821.29 590.00,820.50 C594.17,819.71 596.67,819.42 600.00,819.50 C603.33,819.58 607.08,820.00 610.00,821.00 C612.92,822.00 615.00,823.29 617.50,825.50 C620.00,827.71 622.71,830.92 625.00,834.25 C627.29,837.58 629.38,841.12 631.25,845.50 C633.12,849.88 634.79,855.71 636.25,860.50 C637.71,865.29 638.83,869.83 640.00,874.25 C641.17,878.67 642.50,884.04 643.25,887.00 C644.00,889.96 644.29,891.17 644.50,892.00 M678.30,892.00 C678.50,891.17 678.80,890.17 679.50,887.00 C680.20,883.83 681.38,878.25 682.50,873.00 C683.62,867.75 685.00,861.33 686.25,855.50 C687.50,849.67 688.75,843.42 690.00,838.00 C691.25,832.58 692.50,827.38 693.75,823.00 C695.00,818.62 696.25,814.88 697.50,811.75 C698.75,808.62 700.00,806.21 701.25,804.25 C702.50,802.29 703.88,800.88 705.00,800.00 C706.12,799.12 706.96,798.92 708.00,799.00 C709.04,799.08 710.08,799.42 711.25,800.50 C712.42,801.58 713.54,803.21 715.00,805.50 C716.46,807.79 718.42,811.96 720.00,814.25 C721.58,816.54 723.17,818.17 724.50,819.25 C725.83,820.33 726.88,820.71 728.00,820.75 C729.12,820.79 730.08,820.29 731.25,819.50 C732.42,818.71 733.62,817.50 735.00,816.00 C736.38,814.50 738.75,811.42 739.50,810.50" stroke="#fff" stroke-opacity="0.45" stroke-width="4.8" fill="none" stroke-linejoin="round" clip-path="url(#cp3)"/>
<path d="M50.00,773.75 C52.50,773.12 58.33,771.50 65.00,770.00 C71.67,768.50 82.08,766.42 90.00,764.75 C97.92,763.08 106.67,761.00 112.50,760.00 C118.33,759.00 121.25,758.75 125.00,758.75 C128.75,758.75 131.67,759.08 135.00,760.00 C138.33,760.92 141.67,762.29 145.00,764.25 C148.33,766.21 151.67,769.25 155.00,771.75 C158.33,774.25 161.25,776.54 165.00,779.25 C168.75,781.96 173.33,785.38 177.50,788.00 C181.67,790.62 185.42,792.62 190.00,795.00 C194.58,797.38 200.00,799.75 205.00,802.25 C210.00,804.75 215.83,807.71 220.00,810.00 C224.17,812.29 226.67,814.00 230.00,816.00 C233.33,818.00 236.67,820.21 240.00,822.00 C243.33,823.79 246.67,825.42 250.00,826.75 C253.33,828.08 256.67,828.96 260.00,830.00 C263.33,831.04 265.83,832.17 270.00,833.00 C274.17,833.83 279.17,834.50 285.00,835.00 C290.83,835.50 300.00,835.92 305.00,836.00 C310.00,836.08 310.00,835.67 315.00,835.50 C320.00,835.33 331.67,835.08 335.00,835.00 L340.00,832.50 L346.25,828.50 L350.00,829.50 L360.00,829.25 L366.25,832.00 L372.50,835.00 L380.00,832.50 L395.00,828.50 M395.00,828.50 C397.50,828.29 404.17,827.62 410.00,827.25 C415.83,826.88 425.83,826.54 430.00,826.25 C434.17,825.96 431.25,825.88 435.00,825.50 C438.75,825.12 446.67,824.17 452.50,824.00 C458.33,823.83 464.17,824.17 470.00,824.50 C475.83,824.83 481.67,825.17 487.50,826.00 C493.33,826.83 498.33,828.54 505.00,829.50 C511.67,830.46 520.83,831.75 527.50,831.75 C534.17,831.75 539.17,830.29 545.00,829.50 C550.83,828.71 557.50,827.88 562.50,827.00 C567.50,826.12 570.42,825.33 575.00,824.25 C579.58,823.17 585.83,821.29 590.00,820.50 C594.17,819.71 596.67,819.42 600.00,819.50 C603.33,819.58 607.08,820.00 610.00,821.00 C612.92,822.00 615.00,823.29 617.50,825.50 C620.00,827.71 622.71,830.92 625.00,834.25 C627.29,837.58 629.38,841.12 631.25,845.50 C633.12,849.88 634.79,855.71 636.25,860.50 C637.71,865.29 638.83,869.83 640.00,874.25 C641.17,878.67 642.50,884.04 643.25,887.00 C644.00,889.96 644.29,891.17 644.50,892.00 M678.30,892.00 C678.50,891.17 678.80,890.17 679.50,887.00 C680.20,883.83 681.38,878.25 682.50,873.00 C683.62,867.75 685.00,861.33 686.25,855.50 C687.50,849.67 688.75,843.42 690.00,838.00 C691.25,832.58 692.50,827.38 693.75,823.00 C695.00,818.62 696.25,814.88 697.50,811.75 C698.75,808.62 700.00,806.21 701.25,804.25 C702.50,802.29 703.88,800.88 705.00,800.00 C706.12,799.12 706.96,798.92 708.00,799.00 C709.04,799.08 710.08,799.42 711.25,800.50 C712.42,801.58 713.54,803.21 715.00,805.50 C716.46,807.79 718.42,811.96 720.00,814.25 C721.58,816.54 723.17,818.17 724.50,819.25 C725.83,820.33 726.88,820.71 728.00,820.75 C729.12,820.79 730.08,820.29 731.25,819.50 C732.42,818.71 733.62,817.50 735.00,816.00 C736.38,814.50 738.75,811.42 739.50,810.50" stroke="#000" stroke-width="2.45" fill="none" stroke-linejoin="round" stroke-linecap="butt" clip-path="url(#cp3)"/>
<text class="yl" x="40.8" y="756.4">0</text>
<text class="yl" x="40.8" y="773.2">-2</text>
<text class="yl" x="40.8" y="790.0">-4</text>
<text class="yl" x="40.8" y="806.8">-6</text>
<text class="yl" x="40.8" y="823.6">-8</text>
<text class="yl" x="40.8" y="840.5">-10</text>
<text class="yl" x="40.8" y="857.3">-12</text>
<text class="yl" x="40.8" y="874.1">-14</text>
<text class="yl" x="40.8" y="890.9">-16</text>
<text class="xl" x="50.6" y="903.4">1</text>
<text class="xl" x="259.7" y="903.4">10</text>
<text class="xl" x="468.8" y="903.4">100</text>
<text class="xl" x="677.9" y="903.4">1000</text>
<text class="ax" x="413.9" y="917.0">f [MHz]</text>
<text class="ax" transform="translate(23.1,820.1) rotate(-90)" x="0" y="0">[dB]</text>
</svg></body></html>
